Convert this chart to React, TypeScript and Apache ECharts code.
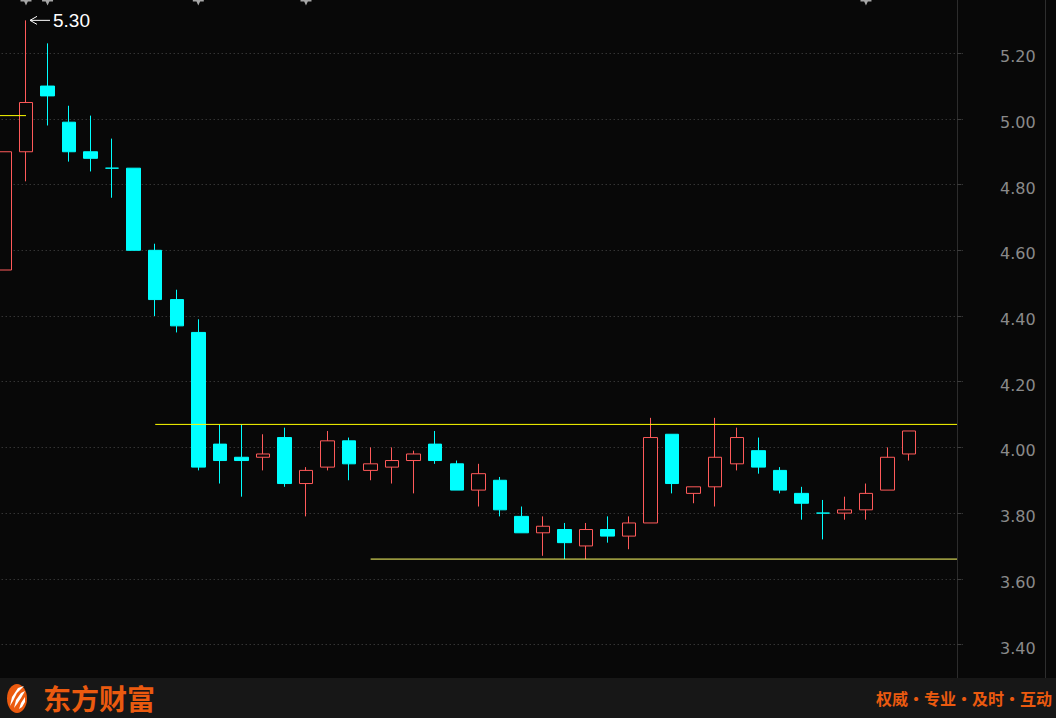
import React, { useEffect, useRef } from "react";
import * as echarts from "echarts";

// ---- data ----
const categories = Array.from({ length: 45 }, (_, i) => `K${i + 1}`);
const opens = [4.54, 4.9, 5.1, 4.99, 4.9, 4.85, 4.85, 4.6, 4.45, 4.35, 4.01, 3.97, 3.97, 4.03, 3.89, 3.94, 4.02, 3.93, 3.94, 3.96, 4.01, 3.95, 3.87, 3.9, 3.79, 3.74, 3.75, 3.7, 3.75, 3.73, 3.77, 4.04, 3.86, 3.88, 3.95, 3.99, 3.93, 3.86, 3.8, 3.8, 3.81, 3.87, 3.98];
const closes = [4.9, 5.05, 5.07, 4.9, 4.88, 4.85, 4.6, 4.45, 4.37, 3.94, 3.96, 3.96, 3.98, 3.89, 3.93, 4.02, 3.95, 3.95, 3.96, 3.98, 3.96, 3.87, 3.92, 3.81, 3.74, 3.76, 3.71, 3.75, 3.73, 3.77, 4.03, 3.89, 3.88, 3.97, 4.03, 3.94, 3.87, 3.83, 3.8, 3.81, 3.86, 3.97, 4.05];
const lows = [4.54, 4.81, 4.98, 4.87, 4.84, 4.76, 4.6, 4.4, 4.35, 3.93, 3.89, 3.85, 3.93, 3.88, 3.79, 3.93, 3.9, 3.9, 3.89, 3.86, 3.95, 3.87, 3.82, 3.79, 3.74, 3.67, 3.66, 3.66, 3.71, 3.69, 3.77, 3.86, 3.83, 3.82, 3.93, 3.92, 3.86, 3.78, 3.72, 3.78, 3.78, 3.87, 3.96];
const highs = [4.9, 5.3, 5.23, 5.04, 5.01, 4.94, 4.85, 4.62, 4.48, 4.39, 4.07, 4.07, 4.04, 4.06, 3.94, 4.05, 4.03, 4.0, 4.0, 3.99, 4.05, 3.96, 3.95, 3.91, 3.82, 3.79, 3.77, 3.77, 3.79, 3.79, 4.09, 4.04, 3.88, 4.09, 4.06, 4.03, 3.94, 3.88, 3.84, 3.85, 3.89, 4.0, 4.05];

const yMin = 3.2;
const yMax = 5.4;
const yStep = 0.2;

const resistanceLevel = 4.07;
const resistanceFrom = 7;
const supportLevel = 3.66;
const supportFrom = 17;
const prevLevel = 5.01;
const prevLevelTo = 1;
const peakIndex = 1;
const peakValue = 5.3;
const eventIdx = [1, 2, 9, 14, 40];
const eventLevel = 5.356;
const sloganParts = ["权威", "专业", "及时", "互动"];

const W = 1056;
const H = 718;
const AXIS_X = 957;
const BAND_Y = 678;

export default function App() {
  const ref = useRef<HTMLDivElement>(null);

  useEffect(() => {
    const el = ref.current!;
    const chart = echarts.init(el, null, { renderer: "svg" });
    const candleData = opens.map((o, i) => [o, closes[i], lows[i], highs[i]]);

    chart.setOption({
      animation: false,
      backgroundColor: "#080808",
      grid: {
        left: -6.3,
        top: -12.5,
        width: 969.2,
        height: 722.7,
        containLabel: false,
        outerBoundsMode: "none",
      },
      xAxis: {
        type: "category",
        data: categories,
        boundaryGap: true,
        show: false,
      },
      yAxis: {
        type: "value",
        position: "right",
        min: yMin,
        max: yMax,
        interval: yStep,
        offset: -5.9,
        axisLine: { show: true, lineStyle: { color: "#2c2c2c", width: 1 } },
        axisTick: { show: true, length: 4, lineStyle: { color: "#3c3c3c" } },
        axisLabel: {
          color: "#8a8a8a",
          fontSize: 16,
          fontFamily: "DejaVu Sans",
          margin: 43,
          showMinLabel: false,
          showMaxLabel: false,
          formatter: (v: number) => `{t|${v.toFixed(2)}}`,
          rich: {
            t: {
              color: "#8a8a8a",
              fontSize: 16,
              fontFamily: "DejaVu Sans",
              padding: [7, 0, 0, 0],
            },
          },
        },
        splitLine: { show: true, lineStyle: { color: "#4a4a4a", type: [1, 3], width: 1 } },
      },
      series: [
        {
          type: "candlestick",
          data: candleData,
          barWidth: 14,
          itemStyle: {
            color: "#080808",
            color0: "#00ffff",
            borderColor: "#ff5a5a",
            borderColor0: "#00ffff",
            borderWidth: 1,
          },
          markPoint: {
            symbol: "path://M0,0 L12,0 L12,3 L8,3 L6,7 L4,3 L0,3 Z",
            symbolSize: [11, 7],
            itemStyle: { color: "#a6a6a6" },
            label: { show: false },
            data: eventIdx.map((i) => ({ coord: [i, eventLevel] })),
          },
        },
      ],
    });

    const px = (i: number, v: number) =>
      chart.convertToPixel({ xAxisIndex: 0, yAxisIndex: 0 }, [i, v]) as number[];

    const pRes = px(resistanceFrom, resistanceLevel);
    const pSup = px(supportFrom, supportLevel);
    const pPrev = px(prevLevelTo, prevLevel);
    const pPeak = px(peakIndex, peakValue);

    const orange = "#eb5a0f";

    chart.setOption({
      graphic: [
        {
          type: "line",
          shape: { x1: pRes[0], y1: pRes[1], x2: AXIS_X, y2: pRes[1] },
          style: { stroke: "#ffff00", lineWidth: 1 },
          z: 50,
        },
        {
          type: "line",
          shape: { x1: pSup[0], y1: pSup[1], x2: AXIS_X, y2: pSup[1] },
          style: { stroke: "#ffff66", lineWidth: 1 },
          z: 50,
        },
        {
          type: "line",
          shape: { x1: 0, y1: pPrev[1], x2: pPrev[0], y2: pPrev[1] },
          style: { stroke: "#ffff00", lineWidth: 1 },
          z: 50,
        },
        // peak arrow + label
        {
          type: "line",
          shape: { x1: pPeak[0] + 4, y1: pPeak[1], x2: pPeak[0] + 24, y2: pPeak[1] },
          style: { stroke: "#ffffff", lineWidth: 1 },
          z: 50,
        },
        {
          type: "polyline",
          shape: {
            points: [
              [pPeak[0] + 11, pPeak[1] - 4],
              [pPeak[0] + 4, pPeak[1]],
              [pPeak[0] + 11, pPeak[1] + 4],
            ],
          },
          style: { stroke: "#ffffff", lineWidth: 1, fill: null },
          z: 50,
        },
        {
          type: "text",
          x: pPeak[0] + 27,
          y: pPeak[1],
          style: {
            text: peakValue.toFixed(2),
            fill: "#ffffff",
            fontSize: 19,
            fontFamily: "Liberation Sans",
            verticalAlign: "middle",
            align: "left",
          },
          z: 50,
        },
        // right panel border
        {
          type: "line",
          shape: { x1: 1045.5, y1: 0, x2: 1045.5, y2: BAND_Y },
          style: { stroke: "#2e2e2e", lineWidth: 1 },
          z: 60,
        },
        // bottom band
        {
          type: "rect",
          shape: { x: 0, y: BAND_Y, width: W, height: H - BAND_Y },
          style: { fill: "#171717" },
          z: 100,
        },
        {
          type: "ellipse",
          shape: { cx: 17, cy: 698.5, rx: 10, ry: 14.5 },
          style: { fill: orange },
          z: 101,
        },
        {
          type: "polygon",
          shape: { points: [[10, 706], [12, 697], [18, 688], [24, 686], [17, 693], [13, 701]] },
          style: { fill: "#ffffff" },
          z: 102,
        },
        {
          type: "polygon",
          shape: { points: [[14, 708], [16, 700], [21, 693], [25, 691], [21, 698], [17, 704]] },
          style: { fill: "#ffffff" },
          z: 102,
        },
        {
          type: "polygon",
          shape: { points: [[19, 709], [21, 703], [25, 697], [25, 702], [22, 707]] },
          style: { fill: "#ffffff" },
          z: 102,
        },
        {
          type: "text",
          x: 43,
          y: 698,
          style: {
            text: "东方财富",
            fill: orange,
            fontSize: 28,
            fontWeight: "bold",
            fontFamily: "Noto Sans CJK SC",
            verticalAlign: "middle",
            align: "left",
          },
          z: 101,
        },
        {
          type: "text",
          x: 1052,
          y: 698,
          style: {
            text: sloganParts.join("·"),
            fill: orange,
            fontSize: 16,
            fontWeight: "bold",
            fontFamily: "Noto Sans CJK SC",
            verticalAlign: "middle",
            align: "right",
          },
          z: 101,
        },
      ],
    });

    return () => chart.dispose();
  }, []);

  return (
    <div
      ref={ref}
      style={{ position: "fixed", left: 0, top: 0, width: W, height: H }}
    />
  );
}
